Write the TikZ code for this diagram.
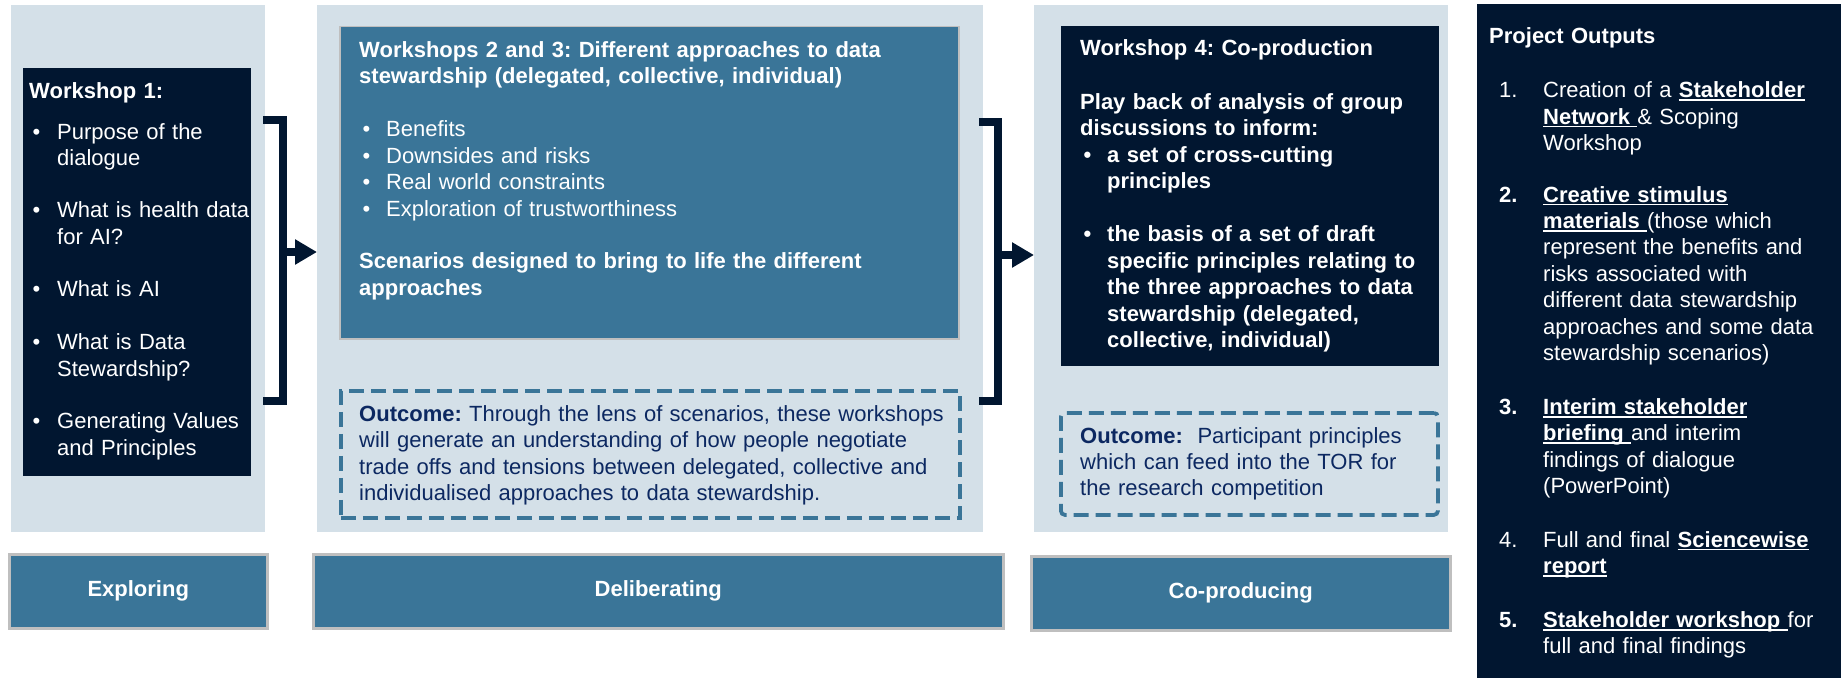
\documentclass[tikz,border=0pt]{standalone}
\usepackage{fontspec}
\setmainfont{Liberation Sans}
\usetikzlibrary{arrows.meta}
\frenchspacing
\definecolor{panelbg}{HTML}{D4E0E8}
\definecolor{navy}{HTML}{011630}
\definecolor{midblue}{HTML}{3A7598}
\definecolor{edgegray}{HTML}{BFBFBF}
\definecolor{outtext}{HTML}{0C2861}
\newcommand\bul[2]{\hangindent=#1\hangafter=1\noindent\makebox[#1][l]{\hspace{3.5pt}•}#2}
\newcommand\numitem[3]{\hangindent=#1\hangafter=1\noindent\makebox[#1][l]{\hspace{10pt}#2}#3}
\newcommand\ulb[1]{\setbox0=\hbox{\bfseries #1}\rlap{\rule[-3.2pt]{\wd0}{1.6pt}}\box0}
\tikzset{
  panel/.style={fill=panelbg, draw=none, inner sep=0pt, anchor=north west},
  darkbox/.style={fill=navy, draw=none, inner sep=0pt, anchor=north west},
  bluebox/.style={fill=midblue, draw=edgegray, line width=1.5pt, inner sep=0pt, anchor=north west},
  outbox/.style={draw=midblue, line width=3.8pt, dash pattern=on 15pt off 7pt, inner sep=0pt, anchor=north west},
  phase/.style={fill=midblue, draw=edgegray, line width=2.5pt, inner sep=0pt, anchor=north west,
    text=white, font={\fontsize{22}{26}\selectfont\bfseries}},
  txt/.style={anchor=base west, inner sep=0pt, align=left, text=white,
    font={\fontsize{22}{26.5}\selectfont\frenchspacing}},
  bracket/.style={draw=navy, line width=7.5pt, line cap=butt, line join=miter},
  flow/.style={draw=navy, line width=7.5pt, -{Triangle[length=22pt,width=24pt]}},
}
\begin{document}
\begin{tikzpicture}[x=1pt,y=-1pt]
\useasboundingbox (0,0) rectangle (1841,677);
% panels
\node[panel, minimum width=254pt, minimum height=527pt] (p1) at (11,5) {};
\node[panel, minimum width=666pt, minimum height=527pt] (p2) at (317,5) {};
\node[panel, minimum width=414pt, minimum height=527pt] (p3) at (1034,5) {};
% inner boxes
\node[darkbox, minimum width=228pt, minimum height=408pt] (w1) at (23,68) {};
\node[bluebox, minimum width=619pt, minimum height=312pt] (w23) at (339,26) {};
\node[outbox, minimum width=619pt, minimum height=127pt] (o23) at (339,389) {};
\node[darkbox, minimum width=378pt, minimum height=340pt] (w4) at (1061,26) {};
\node[outbox, rounded corners=4pt, minimum width=377pt, minimum height=102pt] (o4) at (1059,411) {};
\node[darkbox, minimum width=370pt, minimum height=675pt] (po) at (1477,4) {};
% phase boxes
\node[phase, minimum width=258pt, minimum height=74pt] (explore) at (8,553) {Exploring};
\node[phase, minimum width=690pt, minimum height=74pt] (delib) at (312,553) {Deliberating};
\node[phase, minimum width=419pt, minimum height=74pt] (coprod) at (1030,555) {Co-producing};
% texts
\node[txt, text width=250pt] (w1t) at (29,99) {{\bfseries Workshop 1:}\par\vspace{13.5pt}
\bul{28pt}{Purpose of the\newline dialogue}\par\vspace{26pt}
\bul{28pt}{What is health data\newline for AI?}\par\vspace{26pt}
\bul{28pt}{What is AI}\par\vspace{26pt}
\bul{28pt}{What is Data\newline Stewardship?}\par\vspace{26pt}
\bul{28pt}{Generating Values\newline and Principles}\par};
\node[txt, text width=595pt] (w23t) at (359,57) {{\bfseries Workshops 2 and 3: Different approaches to data\newline stewardship (delegated, collective, individual)}\par\vspace{26.5pt}
\bul{27pt}{Benefits}\par
\bul{27pt}{Downsides and risks}\par
\bul{27pt}{Real world constraints}\par
\bul{27pt}{Exploration of trustworthiness}\par\vspace{26pt}
{\bfseries Scenarios designed to bring to life the different\newline approaches}\par};
\node[txt, text width=595pt, text=outtext] (o23t) at (359,421) {{\bfseries Outcome:} Through the lens of scenarios, these workshops\newline will generate an understanding of how people negotiate\newline trade offs and tensions between delegated, collective and\newline individualised approaches to data stewardship.\par};
\node[txt, text width=355pt, font={\fontsize{22}{26.5}\selectfont\bfseries\frenchspacing}] (w4t) at (1080,56) {Workshop 4: Co-production\par\vspace{27pt}
Play back of analysis of group\newline discussions to inform:\par
\bul{27pt}{a set of cross-cutting\newline principles}\par\vspace{26.5pt}
\bul{27pt}{the basis of a set of draft\newline specific principles relating to\newline the three approaches to data\newline stewardship (delegated,\newline collective, individual)}\par};
\node[txt, text width=355pt, text=outtext, font={\fontsize{22}{26}\selectfont\frenchspacing}] (o4t) at (1080,443) {{\bfseries Outcome:}\ \ Participant principles\newline which can feed into the TOR for\newline the research competition\par};
\node[txt, text width=350pt, font={\fontsize{22}{26.4}\selectfont\frenchspacing}] (pot) at (1489,44) {{\bfseries Project Outputs}\par\vspace{27.5pt}
\numitem{54pt}{1.}{Creation of a \ulb{Stakeholder}\newline\ulb{Network }\& Scoping\newline Workshop}\par\vspace{25pt}
\numitem{54pt}{\bfseries 2.}{\ulb{Creative stimulus}\newline\ulb{materials }(those which\newline represent the benefits and\newline risks associated with\newline different data stewardship\newline approaches and some data\newline stewardship scenarios)}\par\vspace{27.5pt}
\numitem{54pt}{\bfseries 3.}{\ulb{Interim stakeholder}\newline\ulb{briefing }and interim\newline findings of dialogue\newline (PowerPoint)}\par\vspace{27pt}
\numitem{54pt}{4.}{Full and final \ulb{Sciencewise}\newline\ulb{report}}\par\vspace{27.5pt}
\numitem{54pt}{\bfseries 5.}{\ulb{Stakeholder workshop }for\newline full and final findings}\par};
% brackets and arrows
\coordinate (b1t) at (263,120);
\coordinate (b1b) at (263,401);
\coordinate (b1m) at (283,252);
\draw[bracket] (b1t) -- (b1t -| b1m) -- (b1b -| b1m) -- (b1b);
\draw[flow] (b1m) -- (b1m -| p2.west);
\coordinate (b2t) at (979,122);
\coordinate (b2b) at (979,401);
\coordinate (b2m) at (998,255);
\draw[bracket] (b2t) -- (b2t -| b2m) -- (b2b -| b2m) -- (b2b);
\draw[flow] (b2m) -- (b2m -| p3.west);
\end{tikzpicture}
\end{document}
